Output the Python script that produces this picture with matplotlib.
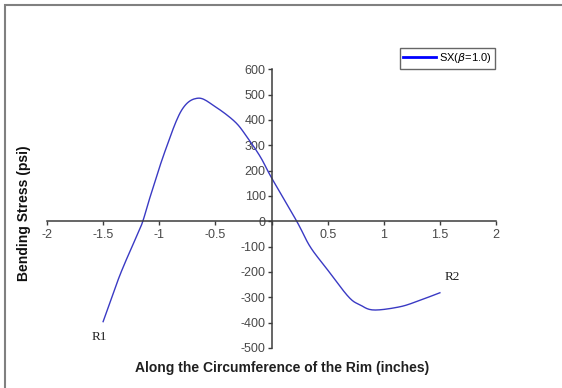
import matplotlib
matplotlib.use("Agg")
import matplotlib.pyplot as plt
import matplotlib.ticker as mticker
from matplotlib.lines import Line2D
from matplotlib.patches import Rectangle
import numpy as np

plt.rcParams["font.family"] = ["Liberation Sans", "DejaVu Sans"]
plt.rcParams["axes.unicode_minus"] = False

# bending stress along the rim
pos = [-1.5, -1.35, -1.19, -1.145, -1.085, -0.95, -0.80, -0.654, -0.5, -0.326,
       -0.22, -0.10, 0.0, 0.225, 0.344, 0.49, 0.686, 0.79, 0.91, 1.147, 1.326, 1.5]
stress = [-396, -212, -47, 2, 91, 275, 439, 486, 452, 393,
          334, 255, 172, 0, -100, -186, -298, -330, -350, -337, -311, -282]
series_name = r'SX($\beta$=1.0)'
x_ticks = [-2, -1.5, -1, -0.5, 0, 0.5, 1, 1.5, 2]
y_ticks = list(range(-500, 601, 100))


# Excel-style smoothed line through the points (Catmull-Rom)
def smooth(xs, ys, n=12):
    p = np.column_stack([xs, ys]).astype(float)
    p = np.vstack([p[0], p, p[-1]])
    out = []
    t = np.linspace(0, 1, n, endpoint=False)[:, None]
    for i in range(1, len(p) - 2):
        p0, p1, p2, p3 = p[i - 1], p[i], p[i + 1], p[i + 2]
        seg = 0.5 * ((2 * p1) + (-p0 + p2) * t + (2 * p0 - 5 * p1 + 4 * p2 - p3) * t ** 2
                     + (-p0 + 3 * p1 - 3 * p2 + p3) * t ** 3)
        out.append(seg)
    out.append(p[-2][None, :])
    out = np.vstack(out)
    return out[:, 0], out[:, 1]


fig = plt.figure(figsize=(5.62, 3.88), dpi=100)
ax = fig.add_axes([0.0836, 0.1031, 0.799, 0.7183])

sx, sy = smooth(pos, stress)
ax.plot(sx, sy, color='#3a3ac4', linewidth=1.0)

ax.set_xlim(-2, 2)
ax.set_ylim(-500, 600)
ax.set_xticks(x_ticks)
ax.set_yticks(y_ticks)
ax.xaxis.set_major_formatter(mticker.FuncFormatter(lambda v, p: '' if v == 0 else '%g' % v))

# axes crossing at the origin
ax.spines['left'].set_position(('data', 0))
ax.spines['bottom'].set_position(('data', 0))
ax.spines['right'].set_visible(False)
ax.spines['top'].set_visible(False)
for s in ['left', 'bottom']:
    ax.spines[s].set_color('#3c3c3c')
    ax.spines[s].set_linewidth(1.1)
ax.tick_params(axis='both', direction='out', length=2.6, width=1.0, color='#3c3c3c',
               labelsize=9, labelcolor='#484848')
ax.tick_params(axis='x', pad=3)
ax.tick_params(axis='y', pad=1.5)
ax.patch.set_visible(False)

ax.text(-1.53, -455, 'R1', family=['Liberation Serif'], fontsize=9.5, ha='center', va='center', color='#202020')
ax.text(1.61, -221, 'R2', family=['Liberation Serif'], fontsize=9.5, ha='center', va='center', color='#202020')

fig.text(24 / 562, 1 - 213 / 388, 'Bending Stress (psi)', rotation=90, ha='center', va='center',
         fontsize=10, fontweight='bold', color='#101010')
fig.text(282 / 562, 1 - 368 / 388, 'Along the Circumference of the Rim (inches)', ha='center', va='center',
         fontsize=10, fontweight='bold', color='#202020')

handle = Line2D([], [], color='#0000ff', linewidth=2)
leg = fig.legend([handle], [series_name], loc='upper right', bbox_to_anchor=(495 / 562, 1 - 48 / 388),
                 fontsize=8, frameon=True, fancybox=False, borderaxespad=0, handlelength=2.9,
                 borderpad=0.3, handletextpad=0.3)
leg.get_frame().set_edgecolor('#404040')
leg.get_frame().set_linewidth(1.0)

# chart-area border (cut off on right and bottom)
fig.patches.append(Rectangle((5 / 562, -0.1), 1.2, 1.1 - 5 / 388, transform=fig.transFigure,
                             fill=False, edgecolor='#808080', linewidth=1.5))

fig.savefig('out.png', dpi=100)
